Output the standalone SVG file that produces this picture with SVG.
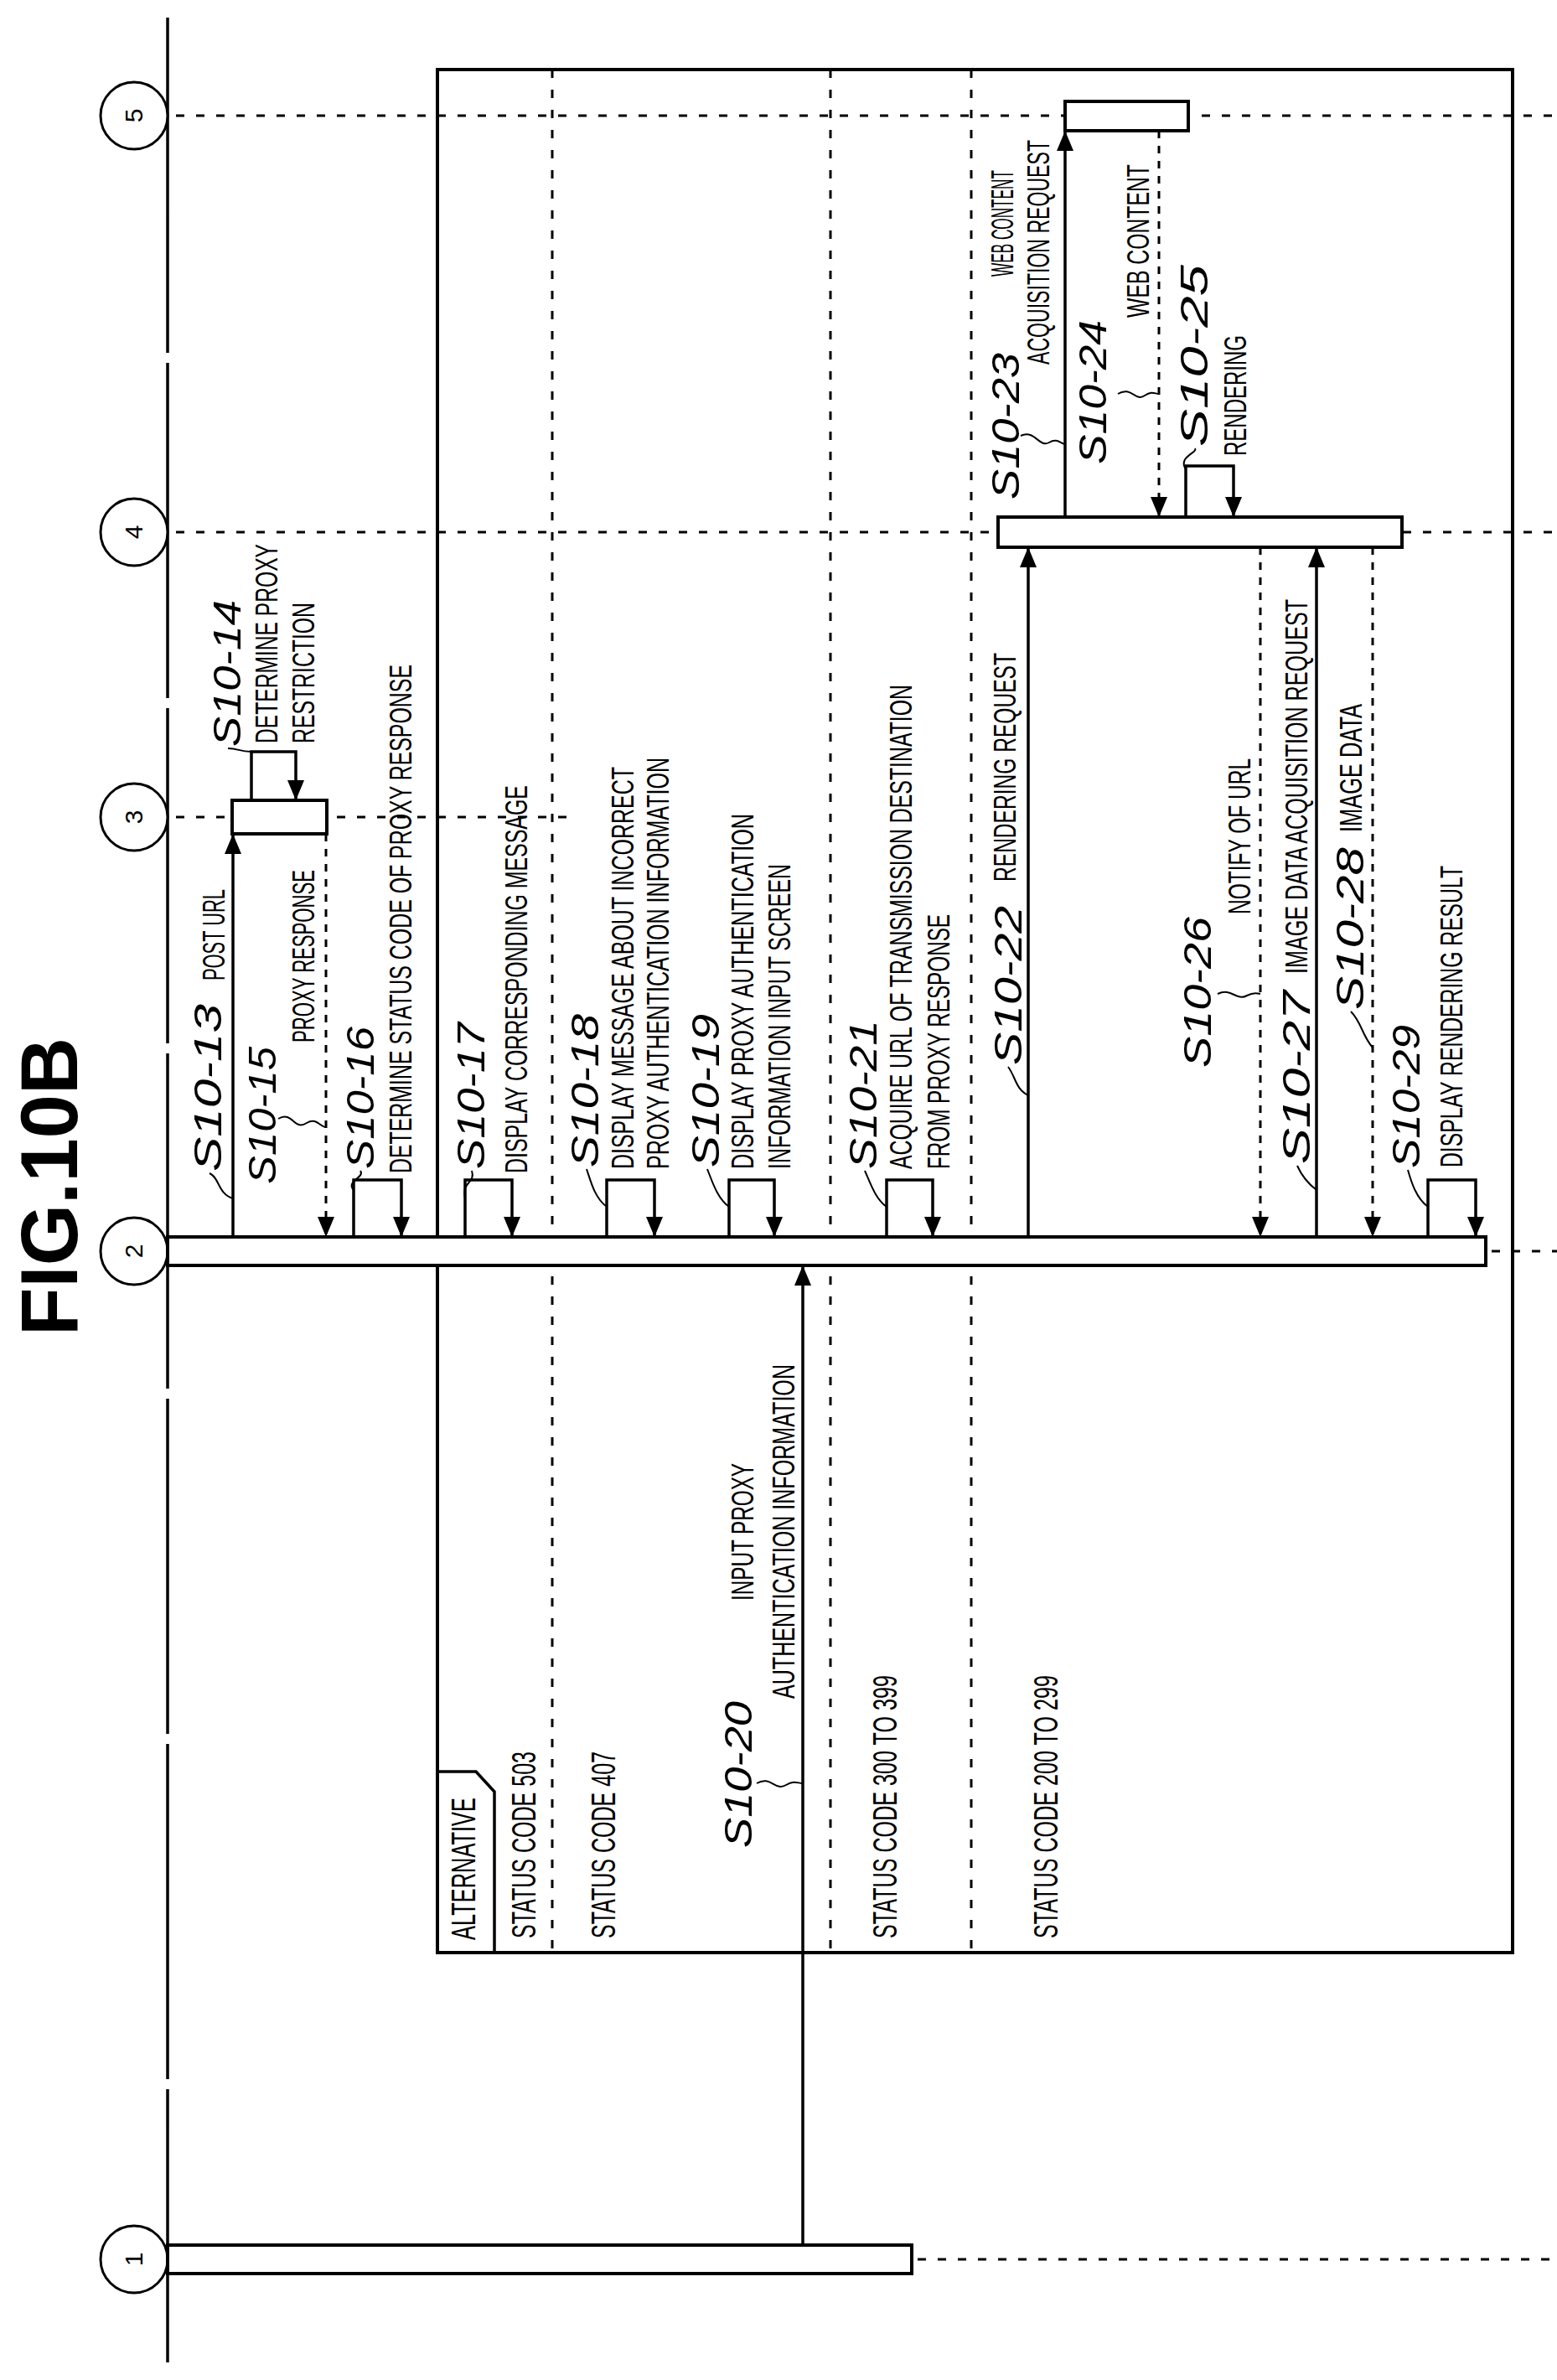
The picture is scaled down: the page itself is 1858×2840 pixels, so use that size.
<svg xmlns="http://www.w3.org/2000/svg" width="1858" height="2840" viewBox="0 0 1858 2840">
<style>
text{font-family:"Liberation Sans",Arial,sans-serif;fill:#000}
.d{font-size:36px}
.s{font-size:46px;font-style:italic}
.st{font-size:40px}
.n{font-size:30px;text-anchor:middle}
.t{font-size:96px;font-weight:bold}
.ln{stroke:#000;stroke-width:3.5;fill:none}
.dl{stroke:#000;stroke-width:3;fill:none;stroke-dasharray:10 14}
.da{stroke:#000;stroke-width:3;fill:none;stroke-dasharray:9 9}
.bar{fill:#fff;stroke:#000;stroke-width:4}
.lead{stroke:#000;stroke-width:2;fill:none}
</style>
<defs>
<marker id="a" viewBox="0 0 12 10" refX="12" refY="5" markerWidth="28" markerHeight="20" markerUnits="userSpaceOnUse" orient="auto"><path d="M0,0 L12,5 L0,10 Z" fill="#000"/></marker>
</defs>

<text class="t" transform="translate(92,1594) rotate(-90)" textLength="356" lengthAdjust="spacingAndGlyphs">FIG.10B</text>

<g id="axis"><line class="ln" x1="200" y1="21" x2="200" y2="2819" stroke-dasharray="400 12"/></g>

<g id="lifelines">
<line class="dl" x1="210" y1="138" x2="1858" y2="138"/>
<line class="dl" x1="210" y1="635" x2="1858" y2="635"/>
<line class="dl" x1="210" y1="975" x2="690" y2="975"/>
<line class="dl" x1="1780" y1="1493" x2="1858" y2="1493"/>
<line class="dl" x1="1095" y1="2696" x2="1858" y2="2696" stroke-dasharray="5 6"/>
</g>

<g id="frame">
<rect x="522" y="83" width="1283" height="2247" fill="none" stroke="#000" stroke-width="4"/>
<line class="dl" x1="659" y1="83" x2="659" y2="2330"/>
<line class="dl" x1="991" y1="83" x2="991" y2="2330"/>
<line class="dl" x1="1159" y1="83" x2="1159" y2="2330"/>
<path class="ln" d="M522,2114 H568 L590,2138 V2330"/>
<text class="st" transform="translate(567,2315) rotate(-90)" textLength="170" lengthAdjust="spacingAndGlyphs">ALTERNATIVE</text>
<text class="st" transform="translate(639,2313) rotate(-90)" textLength="223" lengthAdjust="spacingAndGlyphs">STATUS CODE 503</text>
<text class="st" transform="translate(734,2313) rotate(-90)" textLength="223" lengthAdjust="spacingAndGlyphs">STATUS CODE 407</text>
<text class="st" transform="translate(1070,2313) rotate(-90)" textLength="314" lengthAdjust="spacingAndGlyphs">STATUS CODE 300 TO 399</text>
<text class="st" transform="translate(1262,2313) rotate(-90)" textLength="314" lengthAdjust="spacingAndGlyphs">STATUS CODE 200 TO 299</text>
</g>

<g id="node1"><circle cx="160" cy="2696" r="40" fill="#fff" stroke="#000" stroke-width="3"/><text class="n" transform="translate(170,2696) rotate(-90)">1</text><rect class="bar" x="200" y="2679" width="888" height="34"/></g>
<g id="node2"><circle cx="160" cy="1493" r="40" fill="#fff" stroke="#000" stroke-width="3"/><text class="n" transform="translate(170,1493) rotate(-90)">2</text><rect class="bar" x="200" y="1476" width="1573" height="34"/></g>
<g id="node3"><circle cx="160" cy="975" r="40" fill="#fff" stroke="#000" stroke-width="3"/><text class="n" transform="translate(170,975) rotate(-90)">3</text><rect class="bar" x="277" y="955" width="113" height="40"/></g>
<g id="node4"><circle cx="160" cy="635" r="40" fill="#fff" stroke="#000" stroke-width="3"/><text class="n" transform="translate(170,635) rotate(-90)">4</text><rect class="bar" x="1191" y="617" width="482" height="36"/></g>
<g id="node5"><circle cx="160" cy="138" r="40" fill="#fff" stroke="#000" stroke-width="3"/><text class="n" transform="translate(170,138) rotate(-90)">5</text><rect class="bar" x="1271" y="121" width="147" height="35"/></g>

<g id="connectors">
<line class="ln" x1="278" y1="1476" x2="278" y2="995" marker-end="url(#a)"/>
<path class="ln" d="M300,955 V897 H353 V955" marker-end="url(#a)"/>
<line class="da" x1="389" y1="995" x2="389" y2="1476" marker-end="url(#a)"/>
<path class="ln" d="M422,1476 V1408 H479 V1476" marker-end="url(#a)"/>
<path class="ln" d="M555,1476 V1408 H611 V1476" marker-end="url(#a)"/>
<path class="ln" d="M724,1476 V1408 H781 V1476" marker-end="url(#a)"/>
<path class="ln" d="M870,1476 V1408 H924 V1476" marker-end="url(#a)"/>
<path class="ln" d="M1058,1476 V1408 H1113 V1476" marker-end="url(#a)"/>
<path class="ln" d="M1704,1476 V1408 H1761 V1476" marker-end="url(#a)"/>
<path class="ln" d="M1415,617 V556 H1472 V617" marker-end="url(#a)"/>
<line class="ln" x1="958" y1="2679" x2="958" y2="1510" marker-end="url(#a)"/>
<line class="ln" x1="1227" y1="1476" x2="1227" y2="653" marker-end="url(#a)"/>
<line class="ln" x1="1271" y1="617" x2="1271" y2="156" marker-end="url(#a)"/>
<line class="da" x1="1383" y1="156" x2="1383" y2="617" marker-end="url(#a)"/>
<line class="da" x1="1504" y1="653" x2="1504" y2="1476" marker-end="url(#a)"/>
<line class="ln" x1="1571" y1="1476" x2="1571" y2="653" marker-end="url(#a)"/>
<line class="da" x1="1638" y1="653" x2="1638" y2="1476" marker-end="url(#a)"/>

<path class="lead" d="M278,1430 C260,1425 262,1405 250,1400"/>
<path class="lead" d="M300,897 C285,897 285,893 272,893"/>
<path class="lead" d="M332,1335 C350,1325 350,1350 366,1340 C378,1333 382,1345 389,1345"/>
<path class="lead" d="M422,1420 C412,1410 436,1405 430,1397"/>
<path class="lead" d="M555,1430 C550,1410 568,1412 563,1397"/>
<path class="lead" d="M724,1440 C710,1430 705,1410 700,1395"/>
<path class="lead" d="M870,1440 C856,1430 850,1410 844,1395"/>
<path class="lead" d="M1058,1440 C1044,1430 1038,1410 1032,1397"/>
<path class="lead" d="M1227,1307 C1212,1300 1212,1285 1203,1273"/>
<path class="lead" d="M1704,1440 C1690,1430 1684,1410 1680,1396"/>
<path class="lead" d="M1571,1420 C1558,1410 1552,1400 1548,1391"/>
<path class="lead" d="M1638,1250 C1625,1235 1625,1220 1612,1207"/>
<path class="lead" d="M1453,1186 C1470,1178 1475,1195 1488,1188 C1498,1183 1500,1186 1504,1186"/>
<path class="lead" d="M1218,520 C1235,512 1240,535 1252,528 C1262,522 1266,530 1271,530"/>
<path class="lead" d="M1334,470 C1350,460 1355,480 1366,472 C1375,466 1378,470 1383,470"/>
<path class="lead" d="M1415,560 C1405,545 1430,540 1426,535"/>
<path class="lead" d="M903,2128 C920,2118 925,2138 938,2130 C948,2124 952,2128 958,2128"/>
</g>

<g id="labels">
<text class="s" transform="translate(264,1398) rotate(-90)" textLength="200" lengthAdjust="spacingAndGlyphs">S10-13</text>
<text class="d" transform="translate(268,1170) rotate(-90)" textLength="109" lengthAdjust="spacingAndGlyphs">POST URL</text>
<text class="s" transform="translate(287,891) rotate(-90)" textLength="175" lengthAdjust="spacingAndGlyphs">S10-14</text>
<text class="d" transform="translate(331,887) rotate(-90)" textLength="238" lengthAdjust="spacingAndGlyphs">DETERMINE PROXY</text>
<text class="d" transform="translate(375,887) rotate(-90)" textLength="168" lengthAdjust="spacingAndGlyphs">RESTRICTION</text>
<text class="s" transform="translate(329,1413) rotate(-90)" textLength="164" lengthAdjust="spacingAndGlyphs">S10-15</text>
<text class="d" transform="translate(375,1244) rotate(-90)" textLength="206" lengthAdjust="spacingAndGlyphs">PROXY RESPONSE</text>
<text class="s" transform="translate(446,1395) rotate(-90)" textLength="170" lengthAdjust="spacingAndGlyphs">S10-16</text>
<text class="d" transform="translate(491,1400) rotate(-90)" textLength="607" lengthAdjust="spacingAndGlyphs">DETERMINE STATUS CODE OF PROXY RESPONSE</text>
<text class="s" transform="translate(578,1395) rotate(-90)" textLength="175" lengthAdjust="spacingAndGlyphs">S10-17</text>
<text class="d" transform="translate(629,1400) rotate(-90)" textLength="463" lengthAdjust="spacingAndGlyphs">DISPLAY CORRESPONDING MESSAGE</text>
<text class="s" transform="translate(714,1393) rotate(-90)" textLength="183" lengthAdjust="spacingAndGlyphs">S10-18</text>
<text class="d" transform="translate(756,1395) rotate(-90)" textLength="480" lengthAdjust="spacingAndGlyphs">DISPLAY MESSAGE ABOUT INCORRECT</text>
<text class="d" transform="translate(798,1395) rotate(-90)" textLength="491" lengthAdjust="spacingAndGlyphs">PROXY AUTHENTICATION INFORMATION</text>
<text class="s" transform="translate(858,1393) rotate(-90)" textLength="183" lengthAdjust="spacingAndGlyphs">S10-19</text>
<text class="d" transform="translate(899,1395) rotate(-90)" textLength="424" lengthAdjust="spacingAndGlyphs">DISPLAY PROXY AUTHENTICATION</text>
<text class="d" transform="translate(943,1395) rotate(-90)" textLength="364" lengthAdjust="spacingAndGlyphs">INFORMATION INPUT SCREEN</text>
<text class="s" transform="translate(897,2205) rotate(-90)" textLength="175" lengthAdjust="spacingAndGlyphs">S10-20</text>
<text class="d" transform="translate(899,1910) rotate(-90)" textLength="164" lengthAdjust="spacingAndGlyphs">INPUT PROXY</text>
<text class="d" transform="translate(948,2027) rotate(-90)" textLength="399" lengthAdjust="spacingAndGlyphs">AUTHENTICATION INFORMATION</text>
<text class="s" transform="translate(1046,1395) rotate(-90)" textLength="178" lengthAdjust="spacingAndGlyphs">S10-21</text>
<text class="d" transform="translate(1088,1395) rotate(-90)" textLength="578" lengthAdjust="spacingAndGlyphs">ACQUIRE URL OF TRANSMISSION DESTINATION</text>
<text class="d" transform="translate(1133,1395) rotate(-90)" textLength="304" lengthAdjust="spacingAndGlyphs">FROM PROXY RESPONSE</text>
<text class="s" transform="translate(1219,1271) rotate(-90)" textLength="190" lengthAdjust="spacingAndGlyphs">S10-22</text>
<text class="d" transform="translate(1212,1052) rotate(-90)" textLength="273" lengthAdjust="spacingAndGlyphs">RENDERING REQUEST</text>
<text class="s" transform="translate(1216,596) rotate(-90)" textLength="175" lengthAdjust="spacingAndGlyphs">S10-23</text>
<text class="d" transform="translate(1209,330) rotate(-90)" textLength="127" lengthAdjust="spacingAndGlyphs">WEB CONTENT</text>
<text class="d" transform="translate(1252,435) rotate(-90)" textLength="268" lengthAdjust="spacingAndGlyphs">ACQUISITION REQUEST</text>
<text class="s" transform="translate(1320,554) rotate(-90)" textLength="172" lengthAdjust="spacingAndGlyphs">S10-24</text>
<text class="d" transform="translate(1371,379) rotate(-90)" textLength="183" lengthAdjust="spacingAndGlyphs">WEB CONTENT</text>
<text class="s" transform="translate(1441,533) rotate(-90)" textLength="217" lengthAdjust="spacingAndGlyphs">S10-25</text>
<text class="d" transform="translate(1487,544) rotate(-90)" textLength="144" lengthAdjust="spacingAndGlyphs">RENDERING</text>
<text class="s" transform="translate(1445,1274) rotate(-90)" textLength="180" lengthAdjust="spacingAndGlyphs">S10-26</text>
<text class="d" transform="translate(1492,1091) rotate(-90)" textLength="186" lengthAdjust="spacingAndGlyphs">NOTIFY OF URL</text>
<text class="s" transform="translate(1563,1389) rotate(-90)" textLength="207" lengthAdjust="spacingAndGlyphs">S10-27</text>
<text class="d" transform="translate(1560,1162) rotate(-90)" textLength="447" lengthAdjust="spacingAndGlyphs">IMAGE DATA ACQUISITION REQUEST</text>
<text class="s" transform="translate(1627,1205) rotate(-90)" textLength="194" lengthAdjust="spacingAndGlyphs">S10-28</text>
<text class="d" transform="translate(1625,993) rotate(-90)" textLength="153" lengthAdjust="spacingAndGlyphs">IMAGE DATA</text>
<text class="s" transform="translate(1694,1394) rotate(-90)" textLength="171" lengthAdjust="spacingAndGlyphs">S10-29</text>
<text class="d" transform="translate(1745,1393) rotate(-90)" textLength="360" lengthAdjust="spacingAndGlyphs">DISPLAY RENDERING RESULT</text>
</g>
</svg>
